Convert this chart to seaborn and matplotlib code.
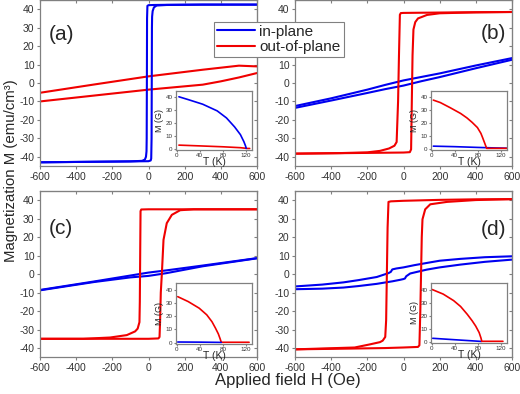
import numpy as np
import pandas as pd
import matplotlib
matplotlib.use('Agg')
import matplotlib.pyplot as plt
from matplotlib.lines import Line2D
import seaborn as sns

# ---- hysteresis loops: field H (Oe) vs M (emu/cm3), descending / ascending branches ----
# (a)
a_blue_desc_H = [600, 300, 100, 30, 0, -6, -8, -9, -10, -11, -14, -20, -35, -100, -300, -600]
a_blue_desc_M = [42.5, 42.5, 42.4, 42.3, 42.2, 41.8, 35, 0, -30, -37, -40, -41.5, -42.2, -42.5, -42.7, -43]
a_blue_asc_H = [-600, -300, -100, 0, 12, 15, 17, 18, 19, 20, 23, 30, 45, 100, 300, 600]
a_blue_asc_M = [-43, -42.7, -42.5, -42.4, -42, -41, -30, 0, 30, 36, 39, 41, 42, 42.3, 42.5, 42.5]
a_red_desc_H = [600, 500, 300, 0, -300, -600]
a_red_desc_M = [9, 9.4, 7.2, 3.6, -0.8, -5.3]
a_red_asc_H = [-600, -300, 0, 300, 400, 500, 600]
a_red_asc_M = [-10, -6.8, -3.6, -0.9, 0.9, 3, 5.4]

# (b)
b_red_desc_H = [600, 300, 100, 0, -15, -20, -25, -30, -38, -50, -80, -130, -200, -350, -600]
b_red_desc_M = [38.5, 38.3, 38.1, 38, 37.9, 37, 15, -10, -32, -34, -35.5, -36.8, -37.6, -38, -38.3]
b_red_asc_H = [-600, -300, -100, 0, 35, 42, 46, 50, 55, 65, 80, 130, 200, 400, 600]
b_red_asc_M = [-38.3, -38, -37.8, -37.7, -37.5, -36, -10, 15, 29, 33, 35, 36.9, 37.8, 38.3, 38.5]
b_blue_desc_H = [600, 400, 200, 100, 0, -100, -200, -400, -600]
b_blue_desc_M = [13.5, 9.5, 5.2, 3.3, 1.4, -1, -3.6, -8.3, -12.5]
b_blue_asc_H = [-600, -400, -200, -100, 0, 100, 200, 400, 600]
b_blue_asc_M = [-13.5, -9.5, -5.4, -3.3, -1.4, 1, 3.2, 8, 12.6]

# (c)
c_red_desc_H = [600, 300, 0, -40, -44, -46, -48, -50, -60, -74, -120, -212, -360, -600]
c_red_desc_M = [35, 35, 35, 34.9, 34, 10, -15, -26, -29.5, -31, -33, -34.3, -35, -35]
c_red_asc_H = [-600, -300, -100, 0, 55, 61, 64, 68, 74, 83, 101, 129, 175, 250, 600]
c_red_asc_M = [-35, -35, -35, -35, -34.8, -34, -26, -10, 0.5, 18.5, 27.5, 32, 34.5, 35, 35]
c_blue_desc_H = [600, 300, 100, 0, -100, -300, -600]
c_blue_desc_M = [8.6, 4.6, 2, 0.8, -0.8, -4, -8.6]
c_blue_asc_H = [-600, -300, -100, 0, 100, 300, 600]
c_blue_asc_M = [-8.8, -4.3, -1.8, -1, 0.5, 4.2, 8.5]

# (d)
d_red_desc_H = [600, 400, 200, 0, -70, -83, -88, -92, -96, -101, -115, -130, -185, -270, -600]
d_red_desc_M = [40.5, 40.4, 40.1, 39.6, 39.3, 39, 25, 0, -25, -34, -36, -36.8, -38, -39.7, -40.7]
d_red_asc_H = [-600, -300, -100, 0, 80, 88, 93, 97, 101, 105, 120, 148, 240, 400, 600]
d_red_asc_M = [-40.7, -40.3, -40, -39.7, -39.4, -38.5, -20, 0, 20, 29.6, 35, 37.7, 39, 40, 40.5]
d_blue_desc_H = [600, 450, 314, 200, 129, 60, 0, -40, -62, -70, -83, -148, -250, -332, -450, -600]
d_blue_desc_M = [9.6, 9.1, 8.2, 7.2, 6, 4.8, 3.6, 3, 2.5, 1.2, 0.5, -1.6, -3.3, -4.5, -5.7, -6.7]
d_blue_asc_H = [-600, -450, -332, -250, -148, -60, -18, 0, 8, 15, 37, 80, 129, 200, 314, 450, 600]
d_blue_asc_M = [-8.2, -7.9, -7.3, -6.5, -5.3, -3.9, -3.1, -2.7, -2.4, -1.2, 0.3, 1.3, 2.4, 3.6, 5.1, 6.6, 7.8]

# ---- insets: M (G) vs T (K) ----
a_in_blue_T = [4, 20, 45, 70, 86, 100, 110, 116, 119, 120]
a_in_blue_M = [40.5, 38.3, 34.7, 29.5, 24, 17, 11, 5.5, 2, 0.3]
a_in_red_T = [4, 40, 80, 110, 118, 122, 126]
a_in_red_M = [2.8, 2.2, 1.5, 0.8, 0.4, 0.2, 0.2]

b_in_red_T = [3, 15, 32, 50, 61, 70, 79, 85, 88, 91, 93.5, 95, 110, 130]
b_in_red_M = [37.9, 36, 32, 27.5, 24, 20.5, 16.5, 12, 8.6, 5, 2, 0.3, 0.3, 0.3]
b_in_blue_T = [3, 40, 80, 110, 130]
b_in_blue_M = [2.0, 1.6, 1.0, 0.6, 0.4]

c_in_red_T = [2, 20, 39, 52, 61, 67, 72, 75, 77, 90, 125]
c_in_red_M = [34.7, 31, 26, 21, 15.8, 11, 6.6, 3, 0.3, 0.3, 0.3]
c_in_blue_T = [2, 40, 77]
c_in_blue_M = [0.5, 0.4, 0.2]

d_in_red_T = [1, 20, 38, 50, 61.5, 70, 76, 82, 85, 86.6, 100, 123]
d_in_red_M = [40, 36.5, 31.5, 27, 21, 16, 12, 7, 3, 0.3, 0.3, 0.3]
d_in_blue_T = [2, 40, 86]
d_in_blue_M = [2.6, 1.5, 0.2]

panel_labels = ['(a)', '(b)', '(c)', '(d)']
x_ticks = [-600, -400, -200, 0, 200, 400, 600]
y_ticks = [-40, -30, -20, -10, 0, 10, 20, 30, 40]
inset_x_ticks = [0, 40, 80, 120]
inset_y_ticks = [0, 10, 20, 30, 40]

BLUE = '#0000f0'
RED = '#f00000'
SPINE = '#808080'

sns.set_style('ticks')
plt.rcParams['font.family'] = ['Liberation Sans', 'DejaVu Sans']
plt.rcParams['axes.unicode_minus'] = False

fig = plt.figure(figsize=(5.2, 3.94), dpi=100)


def style_axes(ax, tick_size, pad):
    for sp in ax.spines.values():
        sp.set_color(SPINE)
        sp.set_linewidth(0.9)
    ax.tick_params(colors='#333333', labelsize=tick_size, length=2.5, width=0.8, pad=pad)
    ax.tick_params(axis='both', color=SPINE)


def draw(ax, x, y, color, lw):
    df = pd.DataFrame({'x': x, 'y': y})
    sns.lineplot(data=df, x='x', y='y', sort=False, estimator=None,
                 color=color, lw=lw, ax=ax)


main_pos = [
    [40 / 520, 1 - 166 / 394, 217 / 520, 166 / 394],
    [295 / 520, 1 - 166 / 394, 217 / 520, 166 / 394],
    [40 / 520, 1 - 357.3 / 394, 217 / 520, 166.5 / 394],
    [295 / 520, 1 - 357.3 / 394, 217 / 520, 166.5 / 394],
]
inset_pos = [
    [176 / 520, 1 - 150 / 394, 76 / 520, 59 / 394],
    [431 / 520, 1 - 150 / 394, 76 / 520, 59 / 394],
    [176 / 520, 1 - 344 / 394, 76 / 520, 61 / 394],
    [431 / 520, 1 - 343 / 394, 76 / 520, 60 / 394],
]
label_xy = [(0.04, 0.79, 'left'), (0.975, 0.80, 'right'),
            (0.04, 0.775, 'left'), (0.975, 0.77, 'right')]

loops = [
    [(a_red_desc_H, a_red_desc_M, RED), (a_red_asc_H, a_red_asc_M, RED),
     (a_blue_desc_H, a_blue_desc_M, BLUE), (a_blue_asc_H, a_blue_asc_M, BLUE)],
    [(b_blue_desc_H, b_blue_desc_M, BLUE), (b_blue_asc_H, b_blue_asc_M, BLUE),
     (b_red_desc_H, b_red_desc_M, RED), (b_red_asc_H, b_red_asc_M, RED)],
    [(c_blue_desc_H, c_blue_desc_M, BLUE), (c_blue_asc_H, c_blue_asc_M, BLUE),
     (c_red_desc_H, c_red_desc_M, RED), (c_red_asc_H, c_red_asc_M, RED)],
    [(d_blue_desc_H, d_blue_desc_M, BLUE), (d_blue_asc_H, d_blue_asc_M, BLUE),
     (d_red_desc_H, d_red_desc_M, RED), (d_red_asc_H, d_red_asc_M, RED)],
]
insets = [
    [(a_in_red_T, a_in_red_M, RED), (a_in_blue_T, a_in_blue_M, BLUE)],
    [(b_in_blue_T, b_in_blue_M, BLUE), (b_in_red_T, b_in_red_M, RED)],
    [(c_in_red_T, c_in_red_M, RED), (c_in_blue_T, c_in_blue_M, BLUE)],
    [(d_in_blue_T, d_in_blue_M, BLUE), (d_in_red_T, d_in_red_M, RED)],
]

for i in range(4):
    ax = fig.add_axes(main_pos[i])
    for x, y, c in loops[i]:
        draw(ax, x, y, c, 1.5)
    ax.set_xlim(-600, 600)
    ax.set_ylim(-45, 45)
    ax.set_xticks(x_ticks)
    ax.set_yticks(y_ticks)
    ax.set_xlabel('')
    ax.set_ylabel('')
    style_axes(ax, 7.5, 1.5)
    # inward ticks on top / right like the original
    top = ax.secondary_xaxis('top')
    top.set_xticks(x_ticks)
    top.tick_params(direction='in', labeltop=False, length=2.5, color=SPINE)
    top.spines['top'].set_color(SPINE)
    right = ax.secondary_yaxis('right')
    right.set_yticks(y_ticks)
    right.tick_params(direction='in', labelright=False, length=2.5, color=SPINE)
    right.spines['right'].set_color(SPINE)
    lx, ly, ha = label_xy[i]
    ax.text(lx, ly, panel_labels[i], transform=ax.transAxes, ha=ha, va='center',
            fontsize=15)

    ins = fig.add_axes(inset_pos[i])
    for x, y, c in insets[i]:
        draw(ins, x, y, c, 1.2)
    ins.set_xlim(-1, 130)
    ins.set_ylim(-1, 45)
    ins.set_xticks(inset_x_ticks)
    ins.set_yticks(inset_y_ticks)
    ins.set_xlabel('T (K)', fontsize=7.5, labelpad=-1)
    ins.set_ylabel('M (G)', fontsize=6.5, labelpad=1)
    style_axes(ins, 4.5, 1)
    ins.tick_params(length=1.5)

handles = [Line2D([], [], color=BLUE, lw=1.5), Line2D([], [], color=RED, lw=1.5)]
leg = fig.legend(handles, ['in-plane', 'out-of-plane'], loc='upper left',
                 bbox_to_anchor=(206 / 520, 1 - 14 / 394), fontsize=11,
                 handlelength=2.5, handletextpad=0.3, borderpad=0.2,
                 labelspacing=0.1, fancybox=False, framealpha=1)
leg.get_frame().set_edgecolor(SPINE)
leg.get_frame().set_linewidth(0.8)

fig.text(0.022, 0.566, 'Magnetization M (emu/cm³)', rotation=90, ha='center',
         va='center', fontsize=10.8)
fig.text(0.554, 0.035, 'Applied field H (Oe)', ha='center', va='center', fontsize=12)

fig.savefig('out.png', dpi=100)
